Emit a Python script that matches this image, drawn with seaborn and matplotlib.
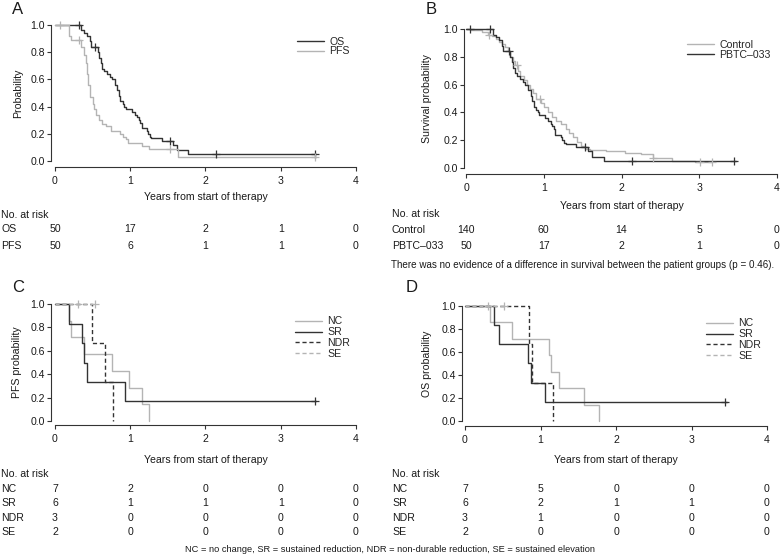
import numpy as np
import matplotlib
matplotlib.use("Agg")
import matplotlib.pyplot as plt
import matplotlib.transforms as mtrans
import seaborn as sns

sns.set_theme(style="ticks")
plt.rcParams['font.family'] = ['Liberation Sans', 'DejaVu Sans']

DARK = '#333333'
LIGHT = '#b4b4b4'
TXT = '#1a1a1a'

# ---------------- data ----------------
# Panel A / B : OS of PBTC-033 cohort
os_t = [0, 0.35, 0.39, 0.42, 0.46, 0.48, 0.57, 0.59, 0.61, 0.63, 0.65, 0.69, 0.73, 0.76,
        0.80, 0.83, 0.85, 0.87, 0.90, 0.92, 0.94, 1.02, 1.06, 1.09, 1.11, 1.13, 1.15, 1.22,
        1.24, 1.26, 1.28, 1.42, 1.57, 1.62, 1.77, 3.47]
os_s = [1.0, 0.96, 0.94, 0.92, 0.88, 0.84, 0.80, 0.76, 0.72, 0.68, 0.66, 0.64, 0.62, 0.60,
        0.56, 0.52, 0.48, 0.44, 0.42, 0.40, 0.38, 0.36, 0.34, 0.32, 0.30, 0.28, 0.24, 0.22,
        0.20, 0.18, 0.17, 0.15, 0.12, 0.08, 0.05, 0.05]
os_cens = [0.32, 0.53, 1.53, 2.14, 3.45]

pfs_t = [0, 0.18, 0.21, 0.35, 0.39, 0.41, 0.43, 0.44, 0.47, 0.50, 0.52, 0.55, 0.58, 0.62,
         0.68, 0.75, 0.86, 0.91, 0.94, 0.97, 1.15, 1.25, 1.64, 3.47]
pfs_s = [1.0, 0.92, 0.89, 0.84, 0.78, 0.72, 0.64, 0.56, 0.47, 0.42, 0.38, 0.34, 0.30, 0.27,
         0.26, 0.22, 0.20, 0.18, 0.16, 0.13, 0.11, 0.09, 0.03, 0.03]
pfs_cens = [0.06, 0.32, 1.53, 3.45]

# Panel B : historical control
ctl_t = [0, 0.05, 0.20, 0.28, 0.33, 0.38, 0.42, 0.46, 0.50, 0.54, 0.57, 0.60, 0.63, 0.67,
         0.70, 0.74, 0.78, 0.82, 0.86, 0.90, 0.96, 1.00, 1.05, 1.10, 1.16, 1.22, 1.28, 1.33,
         1.38, 1.43, 1.48, 1.53, 1.60, 1.80, 2.05, 2.25, 2.40, 2.65, 2.95, 3.16]
ctl_s = [1.0, 0.99, 0.98, 0.96, 0.95, 0.93, 0.91, 0.89, 0.87, 0.84, 0.80, 0.77, 0.74, 0.70,
         0.66, 0.63, 0.60, 0.57, 0.54, 0.50, 0.47, 0.44, 0.40, 0.37, 0.34, 0.32, 0.28, 0.25,
         0.22, 0.19, 0.16, 0.14, 0.13, 0.12, 0.11, 0.10, 0.07, 0.05, 0.04, 0.04]
ctl_cens = [0.30, 0.66, 0.95, 2.41, 3.01, 3.16]
pbtc_cens = [0.05, 0.31, 0.55, 1.53, 2.14, 3.45]

# Panel C : PFS by response group
c_nc_t = [0, 0.19, 0.21, 0.38, 0.76, 0.98, 1.15, 1.25]
c_nc_s = [1.0, 0.857, 0.714, 0.571, 0.429, 0.286, 0.143, 0.0]
c_sr_t = [0, 0.18, 0.36, 0.39, 0.43, 0.93, 3.47]
c_sr_s = [1.0, 0.833, 0.667, 0.5, 0.333, 0.167, 0.167]
c_sr_cens = [3.45]
c_ndr_t = [0, 0.49, 0.66, 0.77]
c_ndr_s = [1.0, 0.667, 0.333, 0.0]
c_se_t = [0, 0.53]
c_se_s = [1.0, 1.0]
c_se_cens = [0.31, 0.53]

# Panel D : OS by response group
d_nc_t = [0, 0.33, 0.62, 1.11, 1.14, 1.24, 1.58, 1.77]
d_nc_s = [1.0, 0.857, 0.714, 0.571, 0.429, 0.286, 0.143, 0.0]
d_sr_t = [0, 0.39, 0.45, 0.83, 0.87, 1.06, 3.47]
d_sr_s = [1.0, 0.833, 0.667, 0.5, 0.333, 0.167, 0.167]
d_sr_cens = [3.45]
d_ndr_t = [0, 0.85, 0.89, 1.17]
d_ndr_s = [1.0, 0.667, 0.333, 0.0]
d_se_t = [0, 0.52]
d_se_s = [1.0, 1.0]
d_se_cens = [0.31, 0.52]

# Numbers at risk (years 0..4)
risk_years = [0, 1, 2, 3, 4]
risk_a = {'OS': [50, 17, 2, 1, 0], 'PFS': [50, 6, 1, 1, 0]}
risk_b = {'Control': [140, 60, 14, 5, 0], 'PBTC\u2013033': [50, 17, 2, 1, 0]}
risk_c = {'NC': [7, 2, 0, 0, 0], 'SR': [6, 1, 1, 1, 0], 'NDR': [3, 0, 0, 0, 0], 'SE': [2, 0, 0, 0, 0]}
risk_d = {'NC': [7, 5, 0, 0, 0], 'SR': [6, 2, 1, 1, 0], 'NDR': [3, 1, 0, 0, 0], 'SE': [2, 0, 0, 0, 0]}

xticks = [0, 1, 2, 3, 4]
yticks = [0.0, 0.2, 0.4, 0.6, 0.8, 1.0]
ytick_labels = ['0.0', '0.2', '0.4', '0.6', '0.8', '1.0']
xlabel = 'Years from start of therapy'
note_b = 'There was no evidence of a difference in survival between the patient groups (p = 0.46).'
footer = 'NC = no change, SR = sustained reduction, NDR = non-durable reduction, SE = sustained elevation'

# ---------------- figure ----------------
W, H = 780, 558
fig = plt.figure(figsize=(W / 100, H / 100), dpi=100)
fig.patch.set_facecolor('white')
pix = mtrans.Affine2D().scale(1 / W, -1 / H).translate(0, 1) + fig.transFigure

XLIM = (-0.1, 4.1)
YLIM = (-0.06, 1.04)
FS = 7.6


def make_axes(x0, x4, y1, y0, sx, sy, ylab, xlab_y, lab_x):
    ppx = (x4 - x0) / 4
    ppy = (y0 - y1)
    left = x0 + XLIM[0] * ppx
    right = x0 + XLIM[1] * ppx
    top = y0 - YLIM[1] * ppy
    bottom = y0 - YLIM[0] * ppy
    ax = fig.add_axes([left / W, 1 - bottom / H, (right - left) / W, (bottom - top) / H])
    ax.set_xlim(*XLIM)
    ax.set_ylim(*YLIM)
    ax.set_facecolor('none')
    for s in ['top', 'right']:
        ax.spines[s].set_visible(False)
    ax.spines['left'].set_position(('data', (sx - x0) / ppx))
    ax.spines['bottom'].set_position(('data', -(sy - y0) / ppy))
    ax.spines['left'].set_bounds(0, 1)
    ax.spines['bottom'].set_bounds(0, 4)
    for s in ['left', 'bottom']:
        ax.spines[s].set_color(DARK)
        ax.spines[s].set_linewidth(0.8)
    ax.set_xticks(xticks)
    ax.set_xticklabels([str(v) for v in xticks])
    ax.set_yticks(yticks)
    ax.set_yticklabels(ytick_labels)
    ax.tick_params(axis='both', direction='out', length=3, width=0.8, colors=DARK,
                   labelcolor=TXT, labelsize=FS)
    ax.tick_params(axis='x', pad=3.2)
    ax.tick_params(axis='y', pad=1.5)
    # axis titles
    ax.set_xlabel(xlabel, fontsize=FS, color=TXT, va='center')
    ax.xaxis.set_label_coords((x0 + x4) / 2 / W, 1 - xlab_y / H, transform=fig.transFigure)
    ax.set_ylabel(ylab, fontsize=FS, color=TXT, va='center')
    ax.yaxis.set_label_coords(lab_x / W, 1 - (y0 + y1) / 2 / H, transform=fig.transFigure)
    return ax


def km(ax, t, s, color, ls, label, cens=None, lw=1.0):
    sns.lineplot(x=t, y=s, drawstyle='steps-post', estimator=None, sort=False,
                 color=color, linestyle=ls, linewidth=lw, label=label, ax=ax)
    if cens:
        tt = np.asarray(t)
        ss = np.asarray(s)
        idx = np.searchsorted(tt, cens, side='right') - 1
        sns.scatterplot(x=cens, y=ss[idx], marker='+', s=32, color=color,
                        linewidth=0.9, ax=ax, legend=False, zorder=5)


def legend(ax, x, y, spacing):
    ax.legend(loc='upper left', bbox_to_anchor=(x, y), bbox_transform=pix, frameon=False,
              fontsize=FS, handlelength=2.6, handletextpad=0.45, labelspacing=spacing,
              borderpad=0, borderaxespad=0)


def risk_table(ax, rows, label_x, head_y, row_ys):
    tr = mtrans.blended_transform_factory(ax.transData, pix)
    fig.text(label_x, head_y, 'No. at risk', transform=pix, fontsize=FS, color=TXT,
             ha='left', va='center')
    for (name, vals), ry in zip(rows.items(), row_ys):
        fig.text(label_x, ry, name, transform=pix, fontsize=FS, color=TXT, ha='left', va='center')
        for yr, v in zip(risk_years, vals):
            ax.text(yr, ry, str(v), transform=tr, fontsize=FS, color=TXT,
                    ha='center', va='center', clip_on=False)


# Panel A
axA = make_axes(55, 356, 25, 161, 51, 167, 'Probability', 197, 18)
km(axA, os_t, os_s, DARK, '-', 'OS', os_cens)
km(axA, pfs_t, pfs_s, LIGHT, '-', 'PFS', pfs_cens)
legend(axA, 297, 37, -0.05)
risk_table(axA, risk_a, 1, 215, [229, 246])

# Panel B
axB = make_axes(466, 777, 29, 168, 464, 174, 'Survival probability', 206, 427)
km(axB, ctl_t, ctl_s, LIGHT, '-', 'Control', ctl_cens)
km(axB, os_t, os_s, DARK, '-', 'PBTC\u2013033', pbtc_cens)
legend(axB, 687, 40, 0.0)
risk_table(axB, risk_b, 392, 214, [230, 246])
fig.text(391, 265, note_b, transform=pix, fontsize=7.1, color=TXT, ha='left', va='center')

# Panel C
axC = make_axes(55, 356, 304, 421, 51, 425, 'PFS probability', 460, 17)
km(axC, c_nc_t, c_nc_s, LIGHT, '-', 'NC')
km(axC, c_sr_t, c_sr_s, DARK, '-', 'SR', c_sr_cens)
km(axC, c_ndr_t, c_ndr_s, DARK, (0, (3, 2)), 'NDR')
km(axC, c_se_t, c_se_s, LIGHT, (0, (3, 2)), 'SE', c_se_cens)
legend(axC, 295, 316.5, 0.08)
risk_table(axC, risk_c, 1, 474, [489, 503, 518, 532])

# Panel D
axD = make_axes(465, 767, 306, 421, 462, 426, 'OS probability', 460, 427)
km(axD, d_nc_t, d_nc_s, LIGHT, '-', 'NC')
km(axD, d_sr_t, d_sr_s, DARK, '-', 'SR', d_sr_cens)
km(axD, d_ndr_t, d_ndr_s, DARK, (0, (3, 2)), 'NDR')
km(axD, d_se_t, d_se_s, LIGHT, (0, (3, 2)), 'SE', d_se_cens)
legend(axD, 706, 318.5, 0.08)
risk_table(axD, risk_d, 392, 474, [489, 503, 518, 532])

fig.text(390, 550, footer, transform=pix, fontsize=6.7, color=TXT, ha='center', va='center')

# panel letters
for letter, (lx, ly) in zip('ABCD', [(18, 10), (431, 10), (18, 288), (412, 288)]):
    fig.text(lx, ly, letter, transform=pix, fontsize=12, color=TXT, ha='center', va='center')

fig.savefig('out.png', dpi=100, facecolor='white')
